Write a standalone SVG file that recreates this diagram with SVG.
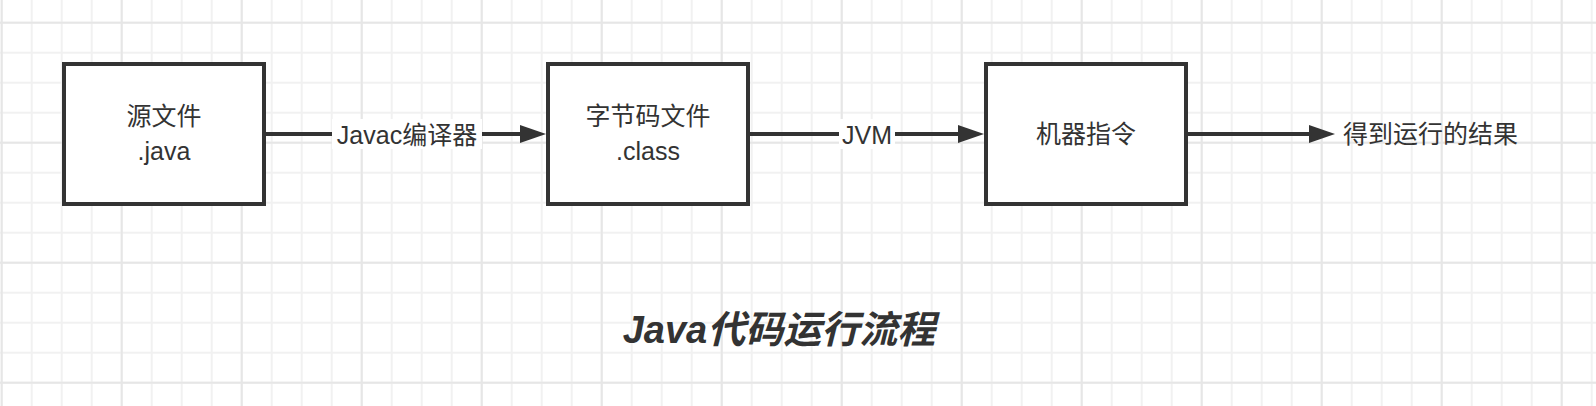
<svg xmlns="http://www.w3.org/2000/svg" width="1596" height="406" viewBox="0 0 1596 406">
  <style>
    .box { fill: #ffffff; stroke: #333333; stroke-width: 4; }
    .edge { fill: none; stroke: #333333; stroke-width: 4; }
    .t { font-family: "Liberation Sans", "Noto Sans CJK SC", sans-serif; font-size: 25px; fill: #333333; text-anchor: middle; }
    .title { font-family: "Liberation Sans", "Noto Sans CJK SC", sans-serif; font-size: 38px; font-weight: bold; font-style: italic; fill: #333333; text-anchor: middle; }
    .lbg { fill: #ffffff; }
  </style>
  <defs>
    <pattern id="minor" patternUnits="userSpaceOnUse" x="-13.3" y="7.7" width="30" height="30">
      <path d="M15,0 V30 M0,15 H30" stroke="#f1f1f1" stroke-width="2" fill="none"/>
    </pattern>
    <pattern id="major" patternUnits="userSpaceOnUse" x="-58.3" y="-37.3" width="120" height="120">
      <path d="M60,0 V120 M0,60 H120" stroke="#e6e6e6" stroke-width="2" fill="none"/>
    </pattern>
    <marker id="arrow" markerUnits="userSpaceOnUse" markerWidth="28" markerHeight="20" refX="0" refY="10" orient="auto">
      <path d="M0,1 L26,10 L0,19 Z" fill="#333333"/>
    </marker>
  </defs>
  <rect x="0" y="0" width="1596" height="406" fill="#ffffff"/>
  <rect x="0" y="0" width="1596" height="406" fill="url(#minor)"/>
  <rect x="0" y="0" width="1596" height="406" fill="url(#major)"/>

  <g id="connectors">
    <line class="edge" x1="266" y1="134" x2="520" y2="134" marker-end="url(#arrow)"/>
    <line class="edge" x1="750" y1="134" x2="958" y2="134" marker-end="url(#arrow)"/>
    <line class="edge" x1="1188" y1="134" x2="1309" y2="134" marker-end="url(#arrow)"/>
    <rect class="lbg" x="332" y="119" width="150" height="30"/>
    <text class="t" x="407" y="144">Javac编译器</text>
    <rect class="lbg" x="839" y="119" width="56" height="30"/>
    <text class="t" x="867" y="144">JVM</text>
  </g>

  <g id="node-source">
    <rect class="box" x="64" y="64" width="200" height="140"/>
    <text class="t" x="164" y="125">源文件</text>
    <text class="t" x="164" y="160">.java</text>
  </g>

  <g id="node-bytecode">
    <rect class="box" x="548" y="64" width="200" height="140"/>
    <text class="t" x="648" y="125">字节码文件</text>
    <text class="t" x="648" y="160">.class</text>
  </g>

  <g id="node-machine">
    <rect class="box" x="986" y="64" width="200" height="140"/>
    <text class="t" x="1086" y="143">机器指令</text>
  </g>

  <g id="node-result">
    <text class="t" x="1343" y="143" style="text-anchor:start">得到运行的结果</text>
  </g>

  <g id="title">
    <text class="title" x="779" y="343">Java代码运行流程</text>
  </g>
</svg>
